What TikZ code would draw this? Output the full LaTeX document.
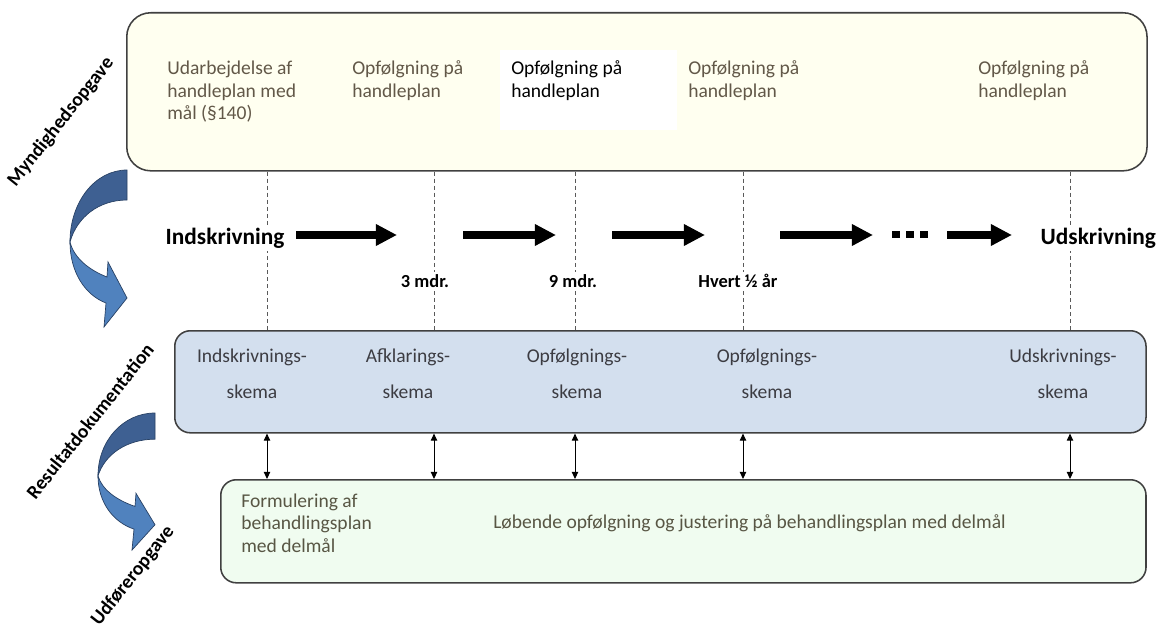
\documentclass[tikz,border=0pt]{standalone}
\usepackage{fontspec}
\setmainfont{Carlito}
\usetikzlibrary{arrows.meta}
\definecolor{topfill}{RGB}{255,255,240}
\definecolor{midfill}{RGB}{211,223,238}
\definecolor{botfill}{RGB}{240,252,240}
\definecolor{boxline}{RGB}{64,64,64}
\definecolor{toptext}{RGB}{98,88,72}
\definecolor{midtext}{RGB}{60,60,66}
\definecolor{bottext}{RGB}{88,86,68}
\definecolor{arrdark}{RGB}{62,96,146}
\definecolor{arrlight}{RGB}{80,130,190}
\definecolor{arredge}{RGB}{40,65,100}
\newcommand\bentarrow[2]{%
  \begin{scope}[shift={#1}, yscale=#2]
    \filldraw[fill=arrdark, draw=arredge, line width=0.5pt]
      (0,0) .. controls (-32,0) and (-57,32) .. (-57,72)
      .. controls (-50,47) and (-28,30) .. (0,30) -- cycle;
    \filldraw[fill=arrlight, draw=arredge, line width=0.5pt]
      (-57,72) .. controls (-57,102) and (-42,125) .. (-21,133)
      -- (-23,157) -- (0,128) -- (-19,92) -- (-20,107)
      .. controls (-38,100) and (-53,88) .. (-57,72) -- cycle;
  \end{scope}}
\begin{document}
\begin{tikzpicture}[x=0.025cm, y=-0.025cm,
  box/.style={draw=boxline, line width=1.1pt, anchor=north west, inner sep=0pt},
  toplbl/.style={anchor=north west, inner sep=0pt, align=left, text=toptext,
    font=\fontsize{13.9pt}{16pt}\selectfont},
  midlbl/.style={anchor=north, inner sep=0pt, align=center, text=midtext,
    font=\fontsize{13.9pt}{25.6pt}\selectfont},
  timelbl/.style={fill=white, inner xsep=1pt, inner ysep=2pt, anchor=base west,
    font=\bfseries\fontsize{16.6pt}{20pt}\selectfont},
  datelbl/.style={fill=white, inner sep=1.5pt, anchor=base,
    font=\bfseries\fontsize{13.1pt}{16pt}\selectfont},
  sidelbl/.style={rotate=51.5, inner sep=0pt, font=\bfseries\fontsize{13.9pt}{16pt}\selectfont},
  guide/.style={draw=black!65, line width=0.7pt, dash pattern=on 3pt off 2pt},
  bigarrow/.style={line width=5pt, -{Triangle[length=15pt,width=14.5pt]}},
  dbl/.style={line width=0.7pt, {Triangle[length=5pt,width=4.5pt]}-{Triangle[length=5pt,width=4.5pt]}},
  dotsq/.style={fill=black, minimum size=5.3pt, inner sep=0pt}
]
\useasboundingbox (0,0) rectangle (1160,624);
\clip (0,0) rectangle (1160,624);

% boxes
\node[box, fill=topfill, rounded corners=17pt, minimum width=25.5cm, minimum height=3.95cm] (myn) at (126,12) {};
\node[box, fill=midfill, rounded corners=11pt, minimum width=24.275cm, minimum height=2.55cm] (res) at (174,330) {};
\node[box, fill=botfill, rounded corners=11pt, minimum width=23.125cm, minimum height=2.575cm] (udf) at (220,479) {};
\node[fill=white, anchor=north west, inner sep=0pt, minimum width=4.425cm, minimum height=2cm] (hl) at (500,50) {};

% guide positions
\coordinate (g1) at (267,235);
\coordinate (g2) at (434,235);
\coordinate (g3) at (575,235);
\coordinate (g4) at (743,235);
\coordinate (g5) at (1070,235);
\foreach \g in {g1,g2,g3,g4,g5}{
  \draw[guide] (\g |- myn.south) -- (\g |- res.north);
  \draw[dbl] (\g |- res.south) -- (\g |- udf.north);
}

% timeline arrows
\coordinate (a1s) at (296,235); \coordinate (a1e) at (397,235);
\coordinate (a2s) at (463,235); \coordinate (a2e) at (556,235);
\coordinate (a3s) at (612,235); \coordinate (a3e) at (705,235);
\coordinate (a4s) at (780,235); \coordinate (a4e) at (873,235);
\coordinate (a5s) at (947,235); \coordinate (a5e) at (1012,235);
\draw[bigarrow] (a1s) -- (a1e);
\draw[bigarrow] (a2s) -- (a2e);
\draw[bigarrow] (a3s) -- (a3e);
\draw[bigarrow] (a4s) -- (a4e);
\draw[bigarrow] (a5s) -- (a5e);
\node[dotsq] (dot1) at (896,234.5) {};
\node[dotsq] (dot2) at (910,234.5) {};
\node[dotsq] (dot3) at (924,234.5) {};

% top texts
\node[toplbl] (t1) at (167,58.5) {\strut Udarbejdelse af\\handleplan med\\mål (§140)};
\node[toplbl] (t2) at (352,58.5) {\strut Opfølgning på\\handleplan};
\node[toplbl, text=black] (t3) at (511,58.5) {\strut Opfølgning på\\handleplan};
\node[toplbl] (t4) at (688,58.5) {\strut Opfølgning på\\handleplan};
\node[toplbl] (t5) at (978,58.5) {\strut Opfølgning på\\handleplan};

% middle texts
\node[midlbl] (m1) at (252,336.8) {\strut Indskrivnings-\\skema};
\node[midlbl] (m2) at (408,336.8) {\strut Afklarings-\\skema};
\node[midlbl] (m3) at (577,336.8) {\strut Opfølgnings-\\skema};
\node[midlbl] (m4) at (767,336.8) {\strut Opfølgnings-\\skema};
\node[midlbl] (m5) at (1063,336.8) {\strut Udskrivnings-\\skema};

% bottom texts
\node[toplbl, text=bottext] (b1) at (241,491) {\strut Formulering af\\behandlingsplan\\med delmål};
\node[anchor=base west, inner sep=0pt, text=bottext, font=\fontsize{13.9pt}{16pt}\selectfont] (b2) at (493,528) {Løbende opfølgning og justering på behandlingsplan med delmål};

% timeline labels
\node[timelbl] (ind) at (164,244) {Indskrivning};
\node[timelbl] (uds) at (1039,244) {Udskrivning};
\node[datelbl] (d1) at (425,287) {3 mdr.};
\node[datelbl] (d2) at (573,287) {9 mdr.};
\node[datelbl] (d3) at (738,287) {Hvert ½ år};

% side labels
\node[sidelbl] (s1) at (61,122) {Myndighedsopgave};
\node[sidelbl] (s2) at (90,421) {Resultatdokumentation};
\node[sidelbl] (s3) at (133,576) {Udføreropgave};

% bent arrows
\bentarrow{(127,170)}{1}
\bentarrow{(155,413)}{0.873}
\end{tikzpicture}
\end{document}
